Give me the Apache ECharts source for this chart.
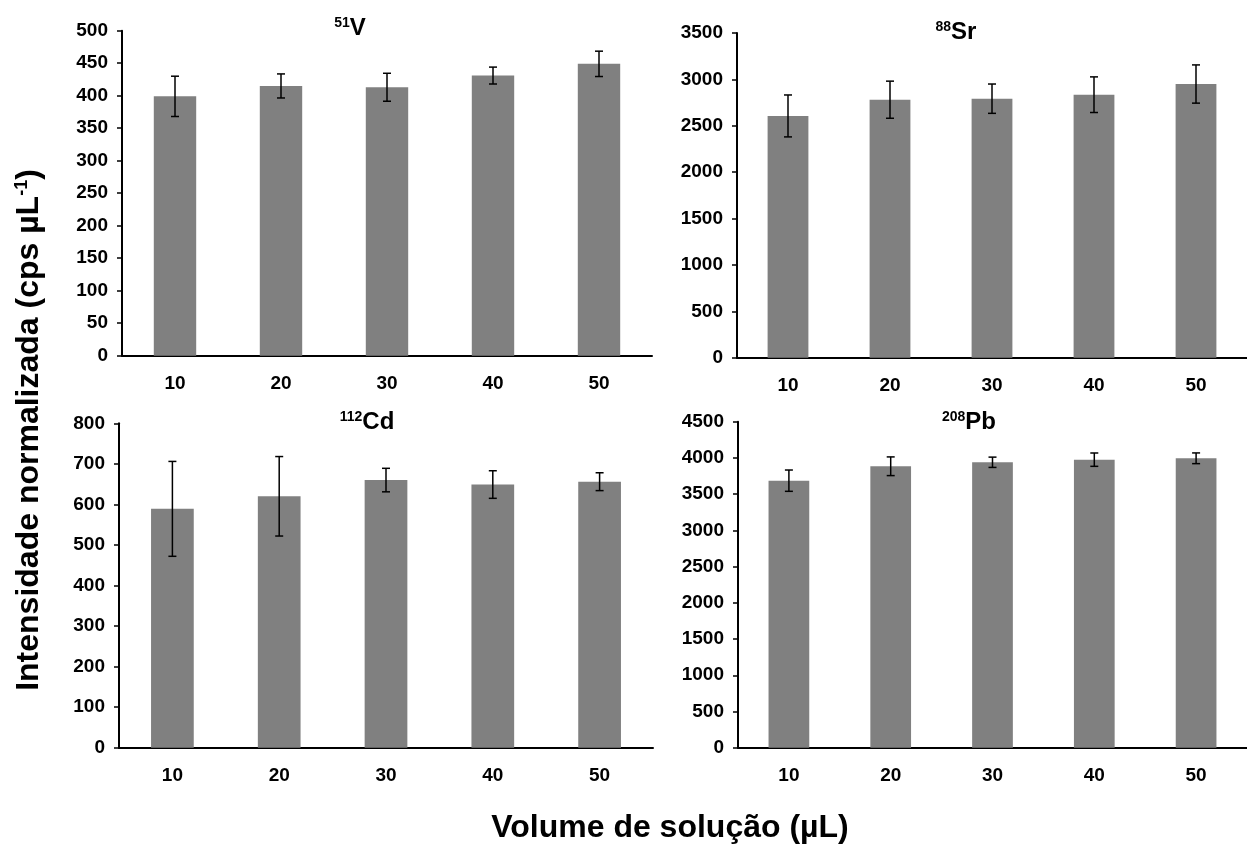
<!DOCTYPE html>
<html><head><meta charset="utf-8">
<script src="https://cdn.jsdelivr.net/npm/echarts@6/dist/echarts.min.js"></script>
<style>html,body{margin:0;padding:0;background:#fff}#c{width:1247px;height:845px}</style>
</head><body><div id="c"></div>
<script>
// ---- data ----
const categories = ['10', '20', '30', '40', '50'];

const vValues  = [399, 415, 413, 431, 449];
const vErrors  = [31, 18.5, 21.5, 13, 19.5];
const srValues = [2606, 2781, 2792, 2835, 2950];
const srErrors = [226, 200, 158, 192, 206];
const cdValues = [589, 620, 660, 649, 656];
const cdErrors = [117, 98, 29, 34, 22];
const pbValues = [3686, 3885, 3940, 3976, 3995];
const pbErrors = [147, 129, 71, 92, 74];

// y-axis ticks: [min, max, interval]
const vTicks  = [0, 500, 50];
const srTicks = [0, 3500, 500];
const cdTicks = [0, 800, 100];
const pbTicks = [0, 4500, 500];

const panelMass   = ['51', '88', '112', '208'];
const panelSymbol = ['V', 'Sr', 'Cd', 'Pb'];
const xTitle = 'Volume de solução (µL)';
const yTitleMain = 'Intensidade normalizada (cps µL';
const yTitleSup = '-1';

// ---- layout ----
const FONT = '"Liberation Sans", Arial, sans-serif';
const grids = [
  {left: 122, top: 30.7, width: 530, height: 325},
  {left: 737, top: 33,   width: 520, height: 324.7},
  {left: 119, top: 423.3, width: 534, height: 324.4},
  {left: 738, top: 421.7, width: 520, height: 326}
];
const titlePos = [[350, 28], [956, 32], [367, 422], [969, 422]];

const panels = [
  {values: vValues,  errors: vErrors,  ticks: vTicks},
  {values: srValues, errors: srErrors, ticks: srTicks},
  {values: cdValues, errors: cdErrors, ticks: cdTicks},
  {values: pbValues, errors: pbErrors, ticks: pbTicks}
];

const labelStyle = {color: '#000', fontWeight: 'bold', fontSize: 19, fontFamily: FONT};

const xAxes = [], yAxes = [], series = [];
panels.forEach((p, i) => {
  xAxes.push({
    type: 'category', gridIndex: i, data: categories,
    axisLine: {lineStyle: {color: '#000', width: 2}},
    axisTick: {length: 6, lineStyle: {color: '#000', width: 1.5}},
    axisLabel: Object.assign({margin: 19}, labelStyle)
  });
  yAxes.push({
    type: 'value', gridIndex: i, min: p.ticks[0], max: p.ticks[1], interval: p.ticks[2],
    axisLine: {show: true, lineStyle: {color: '#000', width: 2}},
    axisTick: {show: true, length: 5, lineStyle: {color: '#000', width: 1.5}},
    splitLine: {show: false},
    axisLabel: Object.assign({margin: 14, formatter: v => String(v)}, labelStyle)
  });
  series.push({
    type: 'bar', xAxisIndex: i, yAxisIndex: i, data: p.values,
    barWidth: '40%', itemStyle: {color: '#808080'}, silent: true
  });
  series.push({
    type: 'custom', xAxisIndex: i, yAxisIndex: i, z: 5, silent: true,
    data: p.values.map((v, k) => [k, v, p.errors[k]]),
    encode: {x: 0, y: 1},
    renderItem: function (params, api) {
      const x = api.value(0), y = api.value(1), e = api.value(2);
      const t = api.coord([x, y + e]), b = api.coord([x, y - e]);
      const hw = 4;
      const st = {stroke: '#000', lineWidth: 1.5};
      return {type: 'group', children: [
        {type: 'line', shape: {x1: t[0], y1: t[1], x2: b[0], y2: b[1]}, style: st},
        {type: 'line', shape: {x1: t[0] - hw, y1: t[1], x2: t[0] + hw, y2: t[1]}, style: st},
        {type: 'line', shape: {x1: b[0] - hw, y1: b[1], x2: b[0] + hw, y2: b[1]}, style: st}
      ]};
    }
  });
});

const graphics = panelMass.map((m, i) => ({
  type: 'text', x: titlePos[i][0], y: titlePos[i][1], silent: true,
  style: {
    text: '{sup|' + m + '}{main|' + panelSymbol[i] + '}',
    align: 'center', verticalAlign: 'middle',
    rich: {
      sup: {fontSize: 14, fontWeight: 'bold', fontFamily: FONT, fill: '#000', padding: [0, 0, 10, 0]},
      main: {fontSize: 24, fontWeight: 'bold', fontFamily: FONT, fill: '#000'}
    }
  }
}));
graphics.push({
  type: 'text', x: 670, y: 828, silent: true,
  style: {text: xTitle, align: 'center', verticalAlign: 'middle', fontSize: 32, fontWeight: 'bold', fontFamily: FONT, fill: '#000'}
});
graphics.push({
  type: 'text', x: 29, y: 430, rotation: Math.PI / 2, silent: true,
  style: {
    text: '{m|' + yTitleMain + '}{s|' + yTitleSup + '}{m|)}',
    align: 'center', verticalAlign: 'middle',
    rich: {
      m: {fontSize: 32, fontWeight: 'bold', fontFamily: FONT, fill: '#000'},
      s: {fontSize: 18, fontWeight: 'bold', fontFamily: FONT, fill: '#000', padding: [0, 0, 14, 0]}
    }
  }
});

const chart = echarts.init(document.getElementById('c'), null, {renderer: 'canvas'});
chart.setOption({
  animation: false,
  backgroundColor: '#fff',
  grid: grids.map(g => Object.assign({containLabel: false}, g)),
  xAxis: xAxes,
  yAxis: yAxes,
  series: series,
  graphic: graphics
});
</script></body></html>
